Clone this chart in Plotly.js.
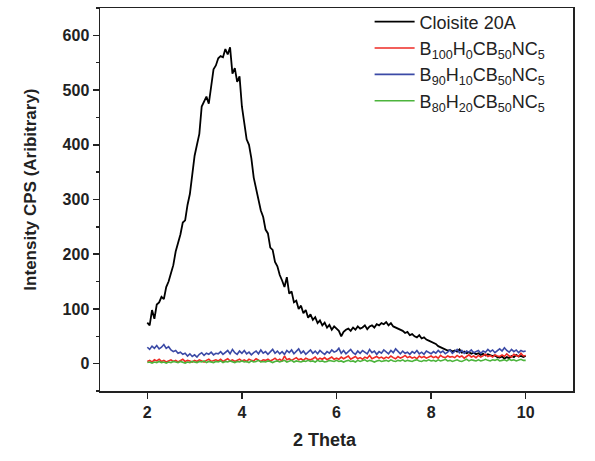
<!DOCTYPE html>
<html>
<head>
<meta charset="utf-8">
<script src="https://cdn.plot.ly/plotly-3.0.1.min.js"></script>
<style>html,body{margin:0;padding:0;background:#fff;}#chart{width:595px;height:461px;}</style>
</head>
<body>
<div id="chart"></div>
<script>
// 2-theta grid: start 2, step 0.05, to 10
const thetaStart = 2;
const thetaStep = 0.05;

const seriesNames = [
  'Cloisite 20A',
  'B<sub>100</sub>H<sub>0</sub>CB<sub>50</sub>NC<sub>5</sub>',
  'B<sub>90</sub>H<sub>10</sub>CB<sub>50</sub>NC<sub>5</sub>',
  'B<sub>80</sub>H<sub>20</sub>CB<sub>50</sub>NC<sub>5</sub>'
];
const xTitle = '2 Theta';
const yTitle = 'Intensity CPS (Aribitrary)';

const cloisite = [
  75,70,98,82,108,112,122,118,140,150,
  165,180,205,220,236,258,262,290,310,345,
  380,400,420,470,480,488,475,510,538,545,
  558,562,560,575,565,578,530,540,515,525,
  470,440,410,400,375,340,320,300,280,268,
  245,238,212,208,186,178,162,152,140,158,
  128,132,112,115,100,106,92,98,84,90,
  80,85,74,79,70,75,66,71,62,68,
  64,60,50,58,62,64,60,66,62,68,
  64,66,70,63,68,70,66,72,70,74,
  72,76,70,74,68,66,64,62,60,56,
  58,52,54,50,48,52,46,48,44,42,
  40,38,36,32,30,28,26,24,25,22,
  24,22,26,20,22,19,21,18,20,17,
  19,16,18,15,17,16,14,15,12,11,
  13,9,12,10,14,12,16,13,14,12,
  14
];

const b100h0 = [
  4,6,3,7,5,8,4,6,3,5,
  7,4,6,3,5,8,4,6,5,3,
  6,4,7,5,3,6,8,4,5,7,
  5,8,4,6,9,5,7,4,6,8,
  5,7,4,8,6,5,9,6,4,7,
  6,8,5,7,10,6,8,5,14,7,
  9,6,8,11,7,9,6,10,8,7,
  9,12,7,10,8,11,7,9,12,8,
  10,8,12,9,11,14,8,10,13,9,
  11,8,12,10,15,9,11,13,10,12,
  9,12,10,14,11,9,13,10,12,15,
  11,13,10,12,9,14,11,13,10,12,
  14,11,13,10,15,12,11,14,12,13,
  11,15,12,14,10,13,16,12,14,11,
  15,12,14,17,13,15,12,16,14,13,
  16,13,18,14,12,17,15,13,19,14,
  15
];

const b90h10 = [
  30,26,32,28,33,27,30,35,28,31,
  25,22,24,19,21,17,19,14,18,13,
  16,12,17,20,15,19,17,21,16,19,
  18,22,17,20,24,18,26,20,17,23,
  19,24,18,21,16,20,23,18,25,19,
  22,17,21,26,19,23,18,22,17,24,
  20,25,18,22,27,19,23,17,21,25,
  19,23,18,24,20,17,22,19,25,21,
  23,28,19,24,18,22,26,20,17,23,
  19,24,21,18,26,20,23,17,22,19,
  25,21,18,24,20,27,22,18,23,19,
  21,17,22,19,24,18,21,17,23,20,
  18,22,19,24,20,23,18,21,25,19,
  22,26,20,24,19,23,21,25,20,22,
  24,19,23,21,26,22,25,20,24,27,
  23,29,24,21,26,22,25,20,24,22,
  23
];

const b80h20 = [
  2,3,1,3,2,4,2,3,1,3,
  2,4,3,2,4,3,1,3,2,4,
  3,2,4,3,5,2,4,3,2,4,
  3,5,2,4,3,5,3,2,4,3,
  5,3,4,2,5,3,4,6,3,4,
  3,5,4,2,4,5,3,4,6,3,
  4,6,3,5,4,3,5,4,6,4,
  5,3,6,4,5,3,4,6,5,4,
  6,4,5,3,5,6,4,5,3,6,
  4,5,7,4,6,5,3,5,6,4,
  5,6,4,7,5,4,6,5,7,4,
  6,5,4,6,7,5,4,6,5,7,
  5,6,4,7,5,6,8,5,6,4,
  6,7,5,4,6,8,5,7,6,5,
  7,5,6,8,6,5,7,6,8,5,
  6,7,5,8,6,7,5,6,8,6,
  6
];

const xTicks = [2, 4, 6, 8, 10];
const yTicks = [0, 100, 200, 300, 400, 500, 600];

const colors = ['#000000', '#ee2a24', '#3b4aa6', '#4cb43c'];
const widths = [1.8, 1.6, 1.6, 1.6];
const allSeries = [cloisite, b100h0, b90h10, b80h20];

const traces = allSeries.map((ys, i) => ({
  type: 'scatter',
  mode: 'lines',
  x0: thetaStart,
  dx: thetaStep,
  y: ys,
  name: seriesNames[i],
  line: {color: colors[i], width: widths[i]}
}));

const fam = 'Liberation Sans, Arial, sans-serif';
const axisFont = {family: fam, size: 16, color: '#222', weight: 'bold'};
const titleFont = {family: fam, size: 18, color: '#222', weight: 'bold'};

const layout = {
  width: 595,
  height: 461,
  margin: {l: 100, r: 22, t: 8, b: 70, autoexpand: false},
  paper_bgcolor: '#fff',
  plot_bgcolor: '#fff',
  showlegend: true,
  legend: {
    x: 0.57, y: 1.012, xanchor: 'left', yanchor: 'top',
    font: {family: fam, size: 18, color: '#222'},
    bgcolor: 'rgba(0,0,0,0)',
    itemwidth: 40,
    tracegroupgap: 0
  },
  xaxis: {
    range: [1, 11],
    tickvals: xTicks,
    ticktext: xTicks.map(String),
    ticks: 'outside', ticklen: 6, tickwidth: 1.5, tickcolor: '#222',
    showline: true, linecolor: '#222', linewidth: 1.5, mirror: true,
    showgrid: false, zeroline: false,
    tickfont: axisFont
  },
  yaxis: {
    range: [-50, 650],
    tickvals: yTicks,
    ticktext: yTicks.map(String),
    ticks: 'outside', ticklen: 6, tickwidth: 1.5, tickcolor: '#222',
    minor: {dtick: 50, ticks: 'outside', ticklen: 3, tickwidth: 1.5, tickcolor: '#222', showgrid: false},
    showline: true, linecolor: '#222', linewidth: 1.5, mirror: true,
    showgrid: false, zeroline: false,
    tickfont: axisFont
  },
  annotations: [
    {text: xTitle, xref: 'paper', yref: 'paper', x: 0.476, y: -0.128,
     xanchor: 'center', yanchor: 'middle', showarrow: false, font: titleFont},
    {text: yTitle, xref: 'paper', yref: 'paper', x: -0.1465, y: 0.525,
     xanchor: 'center', yanchor: 'middle', textangle: -90, showarrow: false,
     font: {family: fam, size: 17, color: '#222', weight: 'bold'}}
  ]
};

Plotly.newPlot('chart', traces, layout, {displayModeBar: false, staticPlot: true});
</script>
</body>
</html>
